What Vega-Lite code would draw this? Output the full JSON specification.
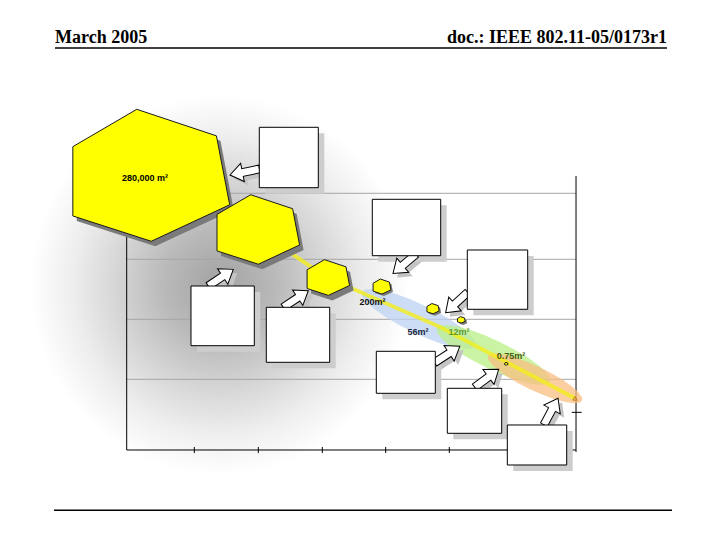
{
  "$schema": "https://vega.github.io/schema/vega-lite/v6.json",
  "width": 720,
  "height": 540,
  "padding": 0,
  "autosize": {"type": "none"},
  "background": "white",
  "config": {"view": {"stroke": null}},
  "datasets": {
    "glow": [{"x": -1.5065, "x2": 4.4135, "y": 5.5318, "y2": -0.3896}],
    "grid": [
      {"x": 0, "x2": 7, "y": 1.1017, "y2": 1.1017},
      {"x": 0, "x2": 7, "y": 2.0366, "y2": 2.0366},
      {"x": 0, "x2": 7, "y": 2.9716, "y2": 2.9716},
      {"x": 0, "x2": 7, "y": 4.0, "y2": 4.0}
    ],
    "frame": [
      {"x": 0, "x2": 0, "y": 0, "y2": 4.27},
      {"x": 0, "x2": 7, "y": 0, "y2": 0},
      {"x": 7, "x2": 7, "y": -0.03, "y2": 4.27},
      {"x": 6.933, "x2": 7.088, "y": 0.587, "y2": 0.587},
      {"x": 1.0531, "x2": 1.0531, "y": -0.047, "y2": 0.047},
      {"x": 2.0502, "x2": 2.0502, "y": -0.047, "y2": 0.047},
      {"x": 3.0472, "x2": 3.0472, "y": -0.047, "y2": 0.047},
      {"x": 4.0349, "x2": 4.0349, "y": -0.047, "y2": 0.047},
      {"x": 5.0257, "x2": 5.0257, "y": -0.047, "y2": 0.047},
      {"x": 6.018, "x2": 6.018, "y": -0.047, "y2": 0.047}
    ],
    "page": [
      {"x": -1.117, "x2": 8.417, "y": 6.2641, "y2": 6.2641},
      {"x": -1.1326, "x2": 8.495, "y": -0.9396, "y2": -0.9396}
    ],
    "headers": [
      {"x": -1.117, "y": 6.342, "text": "March 2005", "side": "left"},
      {"x": 8.417, "y": 6.342, "text": "doc.: IEEE 802.11-05/0173r1", "side": "right"}
    ],
    "bands": [
      {"x": 4.5537, "y": 2.0413, "extent": 1.963, "band": "b1"},
      {"x": 5.7143, "y": 1.4803, "extent": 1.963, "band": "b2"},
      {"x": 6.3608, "y": 1.1172, "extent": 1.626, "band": "b3"}
    ],
    "trend": [
      {"x": 0.3116, "y": 4.2742, "order": 1},
      {"x": 2.0128, "y": 3.4328, "order": 2},
      {"x": 3.122, "y": 2.6864, "order": 3},
      {"x": 4.8808, "y": 1.9166, "order": 4},
      {"x": 6.984, "y": 0.8056, "order": 5}
    ],
    "cells": [
      {"x": 0.3116, "y": 4.2742, "area": 280000},
      {"x": 2.0128, "y": 3.4328, "area": 33000},
      {"x": 3.122, "y": 2.686, "area": 3600},
      {"x": 3.9695, "y": 2.5462, "area": 200},
      {"x": 4.767, "y": 2.2018, "area": 56},
      {"x": 5.2095, "y": 2.0273, "area": 12},
      {"x": 5.912, "y": 1.3432, "area": 0.75}
    ],
    "ends": [{"x": 6.984, "y": 0.8056}],
    "labels": [
      {"x": 0.2851, "y": 4.2338, "label": "280,000 m²"},
      {"x": 3.829, "y": 2.3109, "label": "200m²"},
      {"x": 4.538, "y": 1.8434, "label": "56m²"},
      {"x": 5.177, "y": 1.8434, "label": "12m²"},
      {"x": 5.987, "y": 1.4647, "label": "0.75m²"}
    ],
    "notes": [
      {"x": 2.0657, "x2": 2.9849, "y": 5.0284, "y2": 4.0873},
      {"x": 3.8261, "x2": 4.8917, "y": 3.9065, "y2": 3.0277},
      {"x": 5.3061, "x2": 6.2471, "y": 3.1165, "y2": 2.1925},
      {"x": 1.0017, "x2": 1.9878, "y": 2.5555, "y2": 1.6253},
      {"x": 2.1748, "x2": 3.1625, "y": 2.2236, "y2": 1.3666},
      {"x": 3.8885, "x2": 4.8076, "y": 1.538, "y2": 0.8835},
      {"x": 4.9946, "x2": 5.842, "y": 0.9614, "y2": 0.2602},
      {"x": 5.9293, "x2": 6.8547, "y": 0.3896, "y2": -0.2337}
    ],
    "pointers": [
      {"x": 1.8383, "y": 4.3319, "heading": 168.4},
      {"x": 4.3278, "y": 2.9014, "heading": 140},
      {"x": 5.141, "y": 2.2984, "heading": 137.4},
      {"x": 1.466, "y": 2.6849, "heading": -33.7},
      {"x": 2.6344, "y": 2.3529, "heading": -33.6},
      {"x": 4.993, "y": 1.4881, "heading": -33},
      {"x": 5.6083, "y": 1.1172, "heading": -36.8},
      {"x": 6.61, "y": 0.6, "heading": -62}
    ]
  },
  "encoding": {
    "x": {"field": "x", "type": "quantitative", "scale": {"domain": [-1.97383, 9.24287], "nice": false, "zero": false}, "axis": null},
    "y": {"field": "y", "type": "quantitative", "scale": {"domain": [-1.40242, 7.01208], "nice": false, "zero": false}, "axis": null}
  },
  "layer": [
    {
      "data": {"name": "glow"},
      "mark": {"type": "rect", "strokeWidth": 0, "fill": {"gradient": "radial", "stops": [
        {"offset": 0, "color": "#a2a2a2"},
        {"offset": 0.3, "color": "#bababa"},
        {"offset": 0.55, "color": "#d6d6d6"},
        {"offset": 0.78, "color": "#eeeeee"},
        {"offset": 1, "color": "#ffffff"}
      ]}},
      "encoding": {"x2": {"field": "x2"}, "y2": {"field": "y2"}}
    },
    {
      "data": {"name": "grid"},
      "mark": {"type": "rule", "color": "#a6a6a6", "strokeWidth": 1},
      "encoding": {"x2": {"field": "x2"}, "y2": {"field": "y2"}}
    },
    {
      "data": {"name": "frame"},
      "mark": {"type": "rule", "color": "#000000", "strokeWidth": 1},
      "encoding": {"x2": {"field": "x2"}, "y2": {"field": "y2"}}
    },
    {
      "data": {"name": "bands"},
      "mark": {"type": "point", "filled": true, "opacity": 0.75, "strokeWidth": 0, "angle": 25.5,
        "shape": "M1,0L0.966,0.06L0.866,0.115L0.707,0.163L0.5,0.2L0.259,0.222L0,0.23L-0.259,0.222L-0.5,0.2L-0.707,0.163L-0.866,0.115L-0.966,0.06L-1,0L-0.966,-0.06L-0.866,-0.115L-0.707,-0.163L-0.5,-0.2L-0.259,-0.222L0,-0.23L0.259,-0.222L0.5,-0.2L0.707,-0.163L0.866,-0.115L0.966,-0.06Z"},
      "encoding": {
        "size": {"field": "extent", "type": "quantitative", "scale": {"type": "pow", "exponent": 2, "domain": [0, 2], "range": [0, 16481]}, "legend": null},
        "fill": {"field": "band", "type": "nominal", "scale": {"domain": ["b1", "b2", "b3"], "range": ["#bcd2f2", "#b9ef86", "#f8bd80"]}, "legend": null}
      }
    },
    {
      "data": {"name": "trend"},
      "mark": {"type": "line", "color": "#f2ee1c", "strokeWidth": 4, "opacity": 0.8},
      "encoding": {"order": {"field": "order", "type": "quantitative"}}
    },
    {
      "data": {"name": "cells"},
      "transform": [{"filter": "datum.area >= 1000"}],
      "mark": {"type": "point", "filled": true, "color": "#7a7a7a", "opacity": 1, "strokeWidth": 0, "xOffset": 4, "yOffset": 5,
        "shape": "M-0.12,-0.8L0.84,-0.48L1,0.35L0.055,0.79L-0.89,0.485L-0.89,-0.35Z"},
      "encoding": {"size": {"field": "area", "type": "quantitative", "scale": {"type": "pow", "exponent": 0.6, "domain": [0, 280000], "range": [0, 27556]}, "legend": null}}
    },
    {
      "data": {"name": "cells"},
      "transform": [{"filter": "datum.area < 1000 && datum.area >= 1"}],
      "mark": {"type": "point", "filled": true, "color": "#7a7a7a", "opacity": 1, "strokeWidth": 0, "xOffset": 2, "yOffset": 2,
        "shape": "M-0.12,-0.8L0.84,-0.48L1,0.35L0.055,0.79L-0.89,0.485L-0.89,-0.35Z"},
      "encoding": {"size": {"field": "area", "type": "quantitative", "scale": {"type": "pow", "exponent": 0.6, "domain": [0, 280000], "range": [0, 27556]}, "legend": null}}
    },
    {
      "data": {"name": "cells"},
      "mark": {"type": "point", "filled": true, "fill": "#ffff00", "stroke": "#1a1a1a", "strokeWidth": 1, "opacity": 1,
        "shape": "M-0.12,-0.8L0.84,-0.48L1,0.35L0.055,0.79L-0.89,0.485L-0.89,-0.35Z"},
      "encoding": {"size": {"field": "area", "type": "quantitative", "scale": {"type": "pow", "exponent": 0.6, "domain": [0, 280000], "range": [0, 27556]}, "legend": null}}
    },
    {
      "data": {"name": "ends"},
      "mark": {"type": "point", "shape": "triangle-up", "size": 18, "filled": false, "stroke": "#c07818", "strokeWidth": 1, "opacity": 1}
    },
    {
      "data": {"name": "labels"},
      "mark": {"type": "text", "font": "Liberation Sans", "fontSize": 9, "fontWeight": "bold", "align": "center", "baseline": "middle"},
      "encoding": {
        "text": {"field": "label"},
        "color": {"field": "label", "type": "nominal", "scale": {"domain": ["280,000 m²", "200m²", "56m²", "12m²", "0.75m²"], "range": ["#000000", "#111111", "#1a1f40", "#5f9a35", "#485a10"]}, "legend": null}
      }
    },
    {
      "data": {"name": "pointers"},
      "mark": {"type": "point", "size": 900, "filled": true, "color": "#c4c4c4", "opacity": 1, "strokeWidth": 0, "xOffset": 4, "yOffset": 4,
        "shape": "M-1,-0.26L0.15,-0.26L0.15,-0.62L1,0L0.15,0.62L0.15,0.26L-1,0.26Z"},
      "encoding": {"angle": {"field": "heading", "type": "quantitative", "scale": {"domain": [-180, 180], "range": [-180, 180]}}}
    },
    {
      "data": {"name": "notes"},
      "mark": {"type": "rect", "color": "#cdcdcd", "xOffset": 6, "x2Offset": 6, "yOffset": 6, "y2Offset": 6},
      "encoding": {"x2": {"field": "x2"}, "y2": {"field": "y2"}}
    },
    {
      "data": {"name": "pointers"},
      "mark": {"type": "point", "size": 900, "filled": true, "fill": "#ffffff", "stroke": "#000000", "strokeWidth": 1, "opacity": 1,
        "shape": "M-1,-0.26L0.15,-0.26L0.15,-0.62L1,0L0.15,0.62L0.15,0.26L-1,0.26Z"},
      "encoding": {"angle": {"field": "heading", "type": "quantitative", "scale": {"domain": [-180, 180], "range": [-180, 180]}}}
    },
    {
      "data": {"name": "notes"},
      "mark": {"type": "rect", "fill": "#ffffff", "stroke": "#000000", "strokeWidth": 1},
      "encoding": {"x2": {"field": "x2"}, "y2": {"field": "y2"}}
    },
    {
      "data": {"name": "page"},
      "mark": {"type": "rule", "color": "#000000", "strokeWidth": 1.5},
      "encoding": {"x2": {"field": "x2"}, "y2": {"field": "y2"}}
    },
    {
      "data": {"name": "headers"},
      "transform": [{"filter": "datum.side === 'left'"}],
      "mark": {"type": "text", "font": "Liberation Serif", "fontSize": 18, "fontWeight": "bold", "align": "left", "baseline": "alphabetic", "color": "#000000"},
      "encoding": {"text": {"field": "text"}}
    },
    {
      "data": {"name": "headers"},
      "transform": [{"filter": "datum.side === 'right'"}],
      "mark": {"type": "text", "font": "Liberation Serif", "fontSize": 18, "fontWeight": "bold", "align": "right", "baseline": "alphabetic", "color": "#000000"},
      "encoding": {"text": {"field": "text"}}
    }
  ],
  "resolve": {"scale": {"size": "independent"}}
}
